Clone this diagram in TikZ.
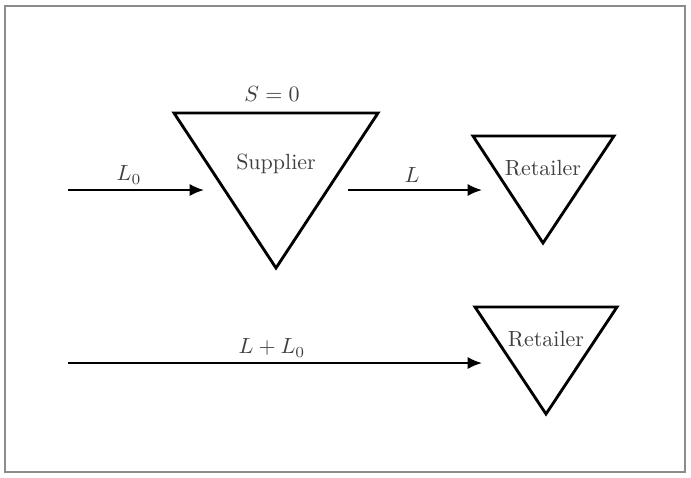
\documentclass[tikz,border=0pt]{standalone}
\usetikzlibrary{arrows.meta}
\begin{document}
\begin{tikzpicture}[x=0.455pt,y=-0.455pt,
  tri/.style={draw=black,line width=1.3pt,line join=miter},
  flow/.style={draw=black,line width=0.9pt,-{Latex[length=6.5pt,width=5.5pt]}},
  lbl/.style={text=black!75,inner sep=1pt,font=\normalsize},
  frame/.style={draw=black!45,line width=0.9pt}]
\useasboundingbox (0,0) rectangle (691,477);
\draw[frame] (5,6) rectangle (685,472);

% supplier stock
\draw[tri] (174,113) -- (378,113) -- (276,268) -- cycle;
\node[lbl] (sup) at (276,164) {Supplier};
\node[lbl] (s0) at (272,94) {$S=0$};

% upper retailer
\draw[tri] (473,136) -- (614,136) -- (543,243) -- cycle;
\node[lbl] (ret1) at (543,168) {Retailer};

% lower retailer
\draw[tri] (475,307) -- (617,307) -- (546,414) -- cycle;
\node[lbl] (ret2) at (546,339) {Retailer};

% flow end points
\coordinate (a0) at (68,190);
\coordinate (a1) at (204,190);
\coordinate (b0) at (348,190);
\coordinate (b1) at (482,190);
\coordinate (c0) at (68,363);
\coordinate (c1) at (482,363);

\draw[flow] (a0) -- (a1);
\draw[flow] (b0) -- (b1);
\draw[flow] (c0) -- (c1);

\node[lbl] (l0) at (129,175) {$L_0$};
\node[lbl] (l) at (412,175) {$L$};
\node[lbl] (ll0) at (272,348) {$L+L_0$};
\end{tikzpicture}
\end{document}
